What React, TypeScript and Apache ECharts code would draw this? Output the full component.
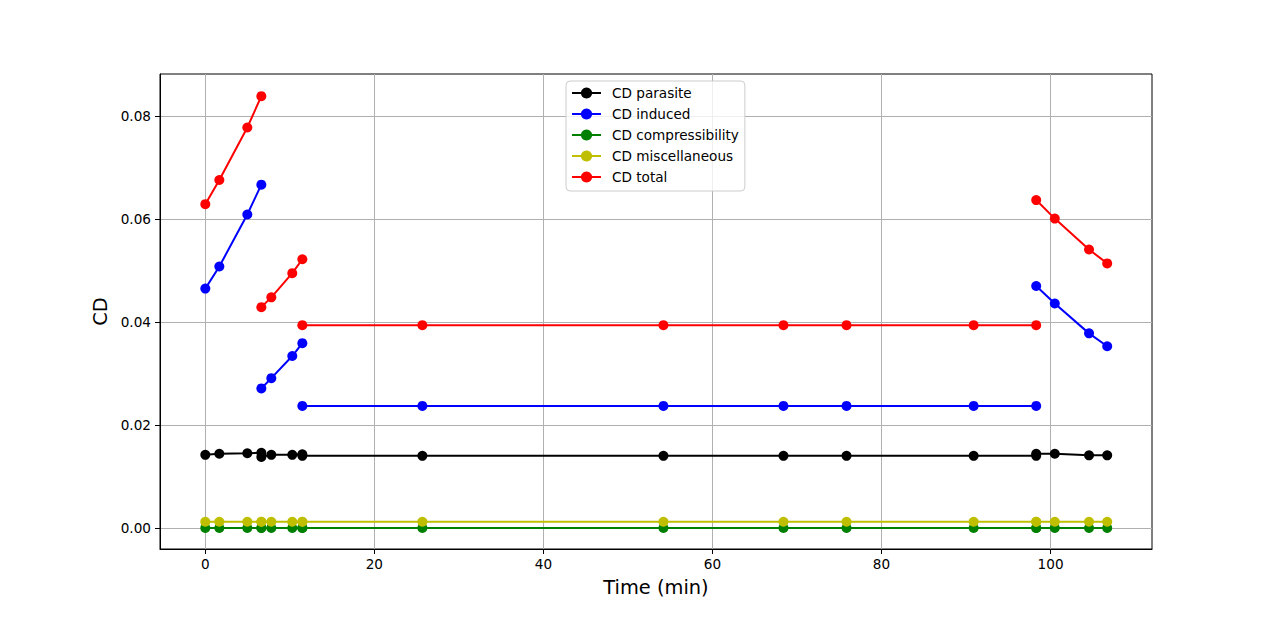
import { useEffect, useRef } from 'react';
import * as echarts from 'echarts';

// time stamps (min) for each flight phase
const climbTime = [0, 1.66, 4.97, 6.63];
const accelTime = [6.63, 7.81, 10.29, 11.48];
const cruiseTime = [11.48, 25.68, 54.2, 68.4, 75.86, 90.9, 98.3];
const descentTime = [98.3, 100.5, 104.55, 106.7];

// drag coefficients per phase
const parasiteClimb = [0.0142, 0.0144, 0.0145, 0.0146];
const parasiteAccel = [0.0138, 0.0142, 0.0142, 0.0143];
const parasiteCruise = [0.014, 0.014, 0.014, 0.014, 0.014, 0.014, 0.014];
const parasiteDescent = [0.0144, 0.0144, 0.0141, 0.0141];

const inducedClimb = [0.0465, 0.0508, 0.0609, 0.0667];
const inducedAccel = [0.0271, 0.0291, 0.0334, 0.0359];
const inducedCruise = [0.0237, 0.0237, 0.0237, 0.0237, 0.0237, 0.0237, 0.0237];
const inducedDescent = [0.047, 0.0436, 0.0378, 0.0353];

const compressClimb = [0, 0, 0, 0];
const compressAccel = [0, 0, 0, 0];
const compressCruise = [0, 0, 0, 0, 0, 0, 0];
const compressDescent = [0, 0, 0, 0];

const miscClimb = [0.0012, 0.0012, 0.0012, 0.0012];
const miscAccel = [0.0012, 0.0012, 0.0012, 0.0012];
const miscCruise = [0.0012, 0.0012, 0.0012, 0.0012, 0.0012, 0.0012, 0.0012];
const miscDescent = [0.0012, 0.0012, 0.0012, 0.0012];

const totalClimb = [0.0629, 0.0676, 0.0778, 0.0839];
const totalAccel = [0.0429, 0.0448, 0.0495, 0.0522];
const totalCruise = [0.0394, 0.0394, 0.0394, 0.0394, 0.0394, 0.0394, 0.0394];
const totalDescent = [0.0637, 0.0601, 0.0541, 0.0514];

const xTicks = [0, 20, 40, 60, 80, 100];
const yTicks = [0, 0.02, 0.04, 0.06, 0.08];

const phaseTimes = [climbTime, accelTime, cruiseTime, descentTime];

// join the phases into one list, with a gap between them so the line breaks
const joinPhases = (phases: number[][]) => {
  const out: (number | string)[][] = [];
  phases.forEach((vals, p) => {
    if (p > 0) out.push([phaseTimes[p][0], '-']);
    vals.forEach((v, i) => out.push([phaseTimes[p][i], v]));
  });
  return out;
};

const FONT = 'DejaVu Sans';

const App = () => {
  const chartRef = useRef<HTMLDivElement>(null);

  useEffect(() => {
    if (!chartRef.current) return;
    const chart = echarts.init(chartRef.current, null, { renderer: 'svg' });

    const line = (name: string, color: string, phases: number[][]) => ({
      name,
      type: 'line' as const,
      data: joinPhases(phases),
      connectNulls: false,
      symbol: 'circle',
      symbolSize: 10,
      lineStyle: { color, width: 2 },
      itemStyle: { color },
      emphasis: { disabled: true }
    });

    chart.setOption({
      animation: false,
      textStyle: { fontFamily: FONT },
      grid: {
        left: 160,
        right: 128,
        top: 74,
        bottom: 68,
        show: true,
        borderColor: '#000',
        borderWidth: 1
      },
      legend: {
        orient: 'vertical',
        left: 566,
        top: 81,
        padding: [5, 6, 7, 5],
        itemGap: 7,
        itemWidth: 29,
        itemHeight: 14,
        borderColor: '#cccccc',
        borderWidth: 1,
        borderRadius: 4,
        backgroundColor: 'rgba(255,255,255,0.8)',
        textStyle: { fontFamily: FONT, fontSize: 13.6, color: '#000', padding: [0, 0, 0, 6] },
        data: ['CD parasite', 'CD induced', 'CD compressibility', 'CD miscellaneous', 'CD total']
      },
      xAxis: {
        type: 'value',
        min: -5.36,
        max: 112.0,
        name: 'Time (min)',
        nameLocation: 'middle',
        nameGap: 29,
        nameTextStyle: { fontFamily: FONT, fontSize: 19.4, color: '#000' },
        axisLine: { onZero: false, lineStyle: { color: '#000', width: 1 } },
        axisTick: { show: true, length: 5, lineStyle: { color: '#000' }, customValues: xTicks },
        axisLabel: {
          customValues: xTicks,
          margin: 8,
          fontFamily: FONT,
          fontSize: 13.6,
          color: '#000',
          formatter: (v: number) => String(Math.round(v))
        },
        splitLine: { show: true, lineStyle: { color: '#b0b0b0', width: 1 } }
      },
      yAxis: {
        type: 'value',
        min: -0.0041,
        max: 0.0882,
        name: 'CD',
        nameLocation: 'middle',
        nameGap: 42,
        nameRotate: 90,
        nameTextStyle: { fontFamily: FONT, fontSize: 19.4, color: '#000' },
        axisLine: { show: true, onZero: false, lineStyle: { color: '#000', width: 1 } },
        axisTick: { show: true, length: 5, lineStyle: { color: '#000' }, customValues: yTicks },
        axisLabel: {
          customValues: yTicks,
          margin: 9,
          fontFamily: FONT,
          fontSize: 13.6,
          color: '#000',
          formatter: (v: number) => v.toFixed(2)
        },
        splitLine: { show: true, lineStyle: { color: '#b0b0b0', width: 1 } }
      },
      series: [
        line('CD parasite', '#000000', [parasiteClimb, parasiteAccel, parasiteCruise, parasiteDescent]),
        line('CD induced', '#0000ff', [inducedClimb, inducedAccel, inducedCruise, inducedDescent]),
        line('CD compressibility', '#008000', [compressClimb, compressAccel, compressCruise, compressDescent]),
        line('CD miscellaneous', '#bfbf00', [miscClimb, miscAccel, miscCruise, miscDescent]),
        line('CD total', '#ff0000', [totalClimb, totalAccel, totalCruise, totalDescent])
      ]
    });

    return () => {
      chart.dispose();
    };
  }, []);

  return (
    <div
      ref={chartRef}
      style={{ position: 'absolute', left: 0, top: 0, width: '1280px', height: '617px', background: '#fff' }}
    />
  );
};

export default App;
